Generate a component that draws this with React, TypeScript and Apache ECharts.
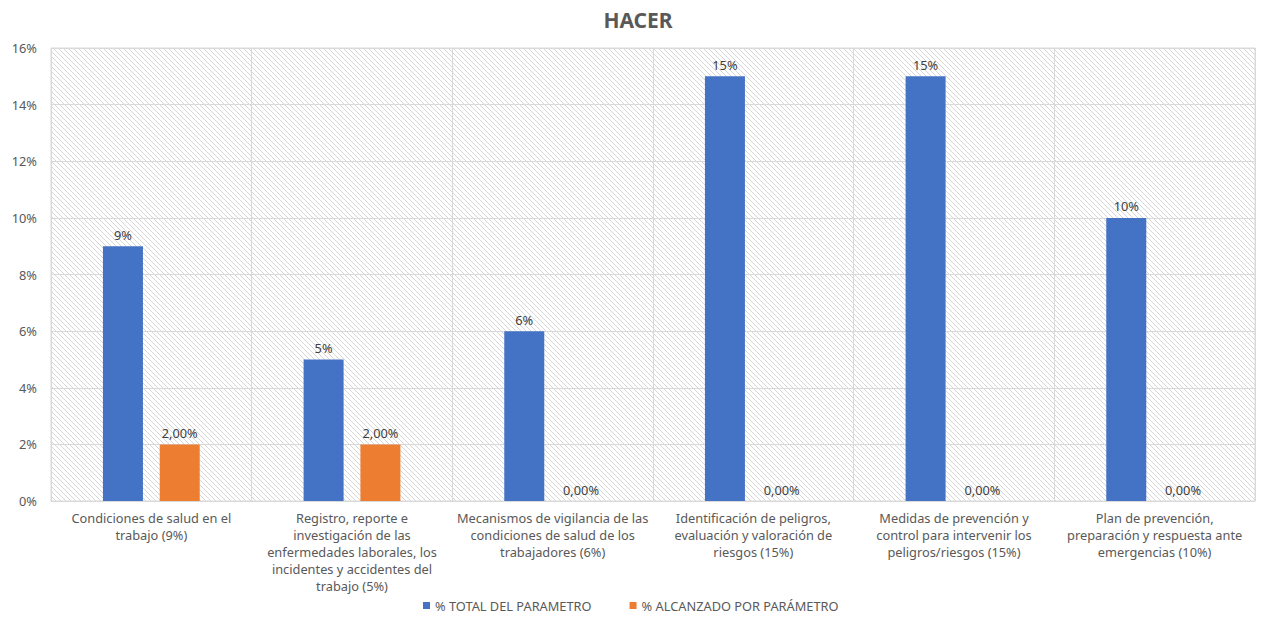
import React, { useEffect, useRef } from "react";
import * as echarts from "echarts";

const categories = [
  "Condiciones de salud en el\ntrabajo (9%)",
  "Registro, reporte e\ninvestigación de las\nenfermedades laborales, los\nincidentes y accidentes del\ntrabajo (5%)",
  "Mecanismos de vigilancia de las\ncondiciones de salud de los\ntrabajadores (6%)",
  "Identificación de peligros,\nevaluación y valoración de\nriesgos (15%)",
  "Medidas de prevención y\ncontrol para intervenir los\npeligros/riesgos (15%)",
  "Plan de prevención,\npreparación y respuesta ante\nemergencias (10%)",
];
const totalValues = [9, 5, 6, 15, 15, 10];
const reachedValues = [2, 2, 0, 0, 0, 0];
const seriesNames = ["% TOTAL DEL PARAMETRO", "% ALCANZADO POR PARÁMETRO"];

const FONT = "'Noto Sans', 'Open Sans', sans-serif";
const FS = 12.8;

function makeHatch(): HTMLCanvasElement {
  const c = document.createElement("canvas");
  const s = 5;
  c.width = s;
  c.height = s;
  const ctx = c.getContext("2d")!;
  ctx.fillStyle = "#ffffff";
  ctx.fillRect(0, 0, s, s);
  ctx.strokeStyle = "#d6d6d6";
  ctx.lineWidth = 1;
  ctx.beginPath();
  ctx.moveTo(0, 0);
  ctx.lineTo(s, s);
  ctx.moveTo(-1, s - 1);
  ctx.lineTo(1, s + 1);
  ctx.moveTo(s - 1, -1);
  ctx.lineTo(s + 1, 1);
  ctx.stroke();
  return c;
}

export default function App() {
  const ref = useRef<HTMLDivElement>(null);
  useEffect(() => {
    if (!ref.current) return;
    const chart = echarts.init(ref.current, undefined, { renderer: "svg" });
    const hatch = makeHatch();
    chart.setOption({
      animation: false,
      backgroundColor: "#ffffff",
      textStyle: { fontFamily: FONT },
      title: {
        text: "HACER",
        left: 633,
        textAlign: "center",
        top: 4,
        textStyle: { fontFamily: FONT, fontSize: 21, fontWeight: "bold", color: "#595959" },
      },
      grid: {
        left: 51,
        right: 11,
        top: 48,
        bottom: 119,
        show: true,
        borderColor: "#d9d9d9",
        borderWidth: 1,
        backgroundColor: { image: hatch, repeat: "repeat" } as any,
      },
      legend: {
        bottom: 3,
        left: 418,
        itemWidth: 7,
        itemHeight: 7,
        itemGap: 38,
        icon: "rect",
        textStyle: { fontFamily: FONT, fontSize: FS, color: "#595959" },
        data: seriesNames,
      },
      xAxis: {
        type: "category",
        data: categories,
        axisLine: { lineStyle: { color: "#d9d9d9" } },
        axisTick: { show: false },
        splitLine: { show: true, lineStyle: { color: "#d9d9d9" } },
        axisLabel: {
          interval: 0,
          color: "#595959",
          fontSize: FS,
          lineHeight: 17,
          margin: 8,
          fontFamily: FONT,
        },
      },
      yAxis: {
        type: "value",
        min: 0,
        max: 16,
        interval: 2,
        axisLine: { show: false },
        axisTick: { show: false },
        splitLine: { lineStyle: { color: "#d9d9d9" } },
        axisLabel: {
          formatter: "{value}%",
          color: "#595959",
          fontSize: FS,
          margin: 14,
          fontFamily: FONT,
        },
      },
      series: [
        {
          name: seriesNames[0],
          type: "bar",
          data: totalValues,
          barWidth: 40,
          barGap: "42%",
          itemStyle: { color: "#4472C4" },
          label: {
            show: true,
            position: "top",
            distance: 5,
            formatter: (p: any) => `${p.value}%`,
            color: "#404040",
            fontSize: FS,
            fontFamily: FONT,
          },
        },
        {
          name: seriesNames[1],
          type: "bar",
          data: reachedValues,
          barWidth: 40,
          barGap: "42%",
          itemStyle: { color: "#ED7D31" },
          label: {
            show: true,
            position: "top",
            distance: 5,
            formatter: (p: any) => `${Number(p.value).toFixed(2).replace(".", ",")}%`,
            color: "#404040",
            fontSize: FS,
            fontFamily: FONT,
          },
        },
      ],
    });
    return () => chart.dispose();
  }, []);
  return (
    <div
      ref={ref}
      style={{ position: "fixed", left: 0, top: 0, width: 1266, height: 620 }}
    />
  );
}
